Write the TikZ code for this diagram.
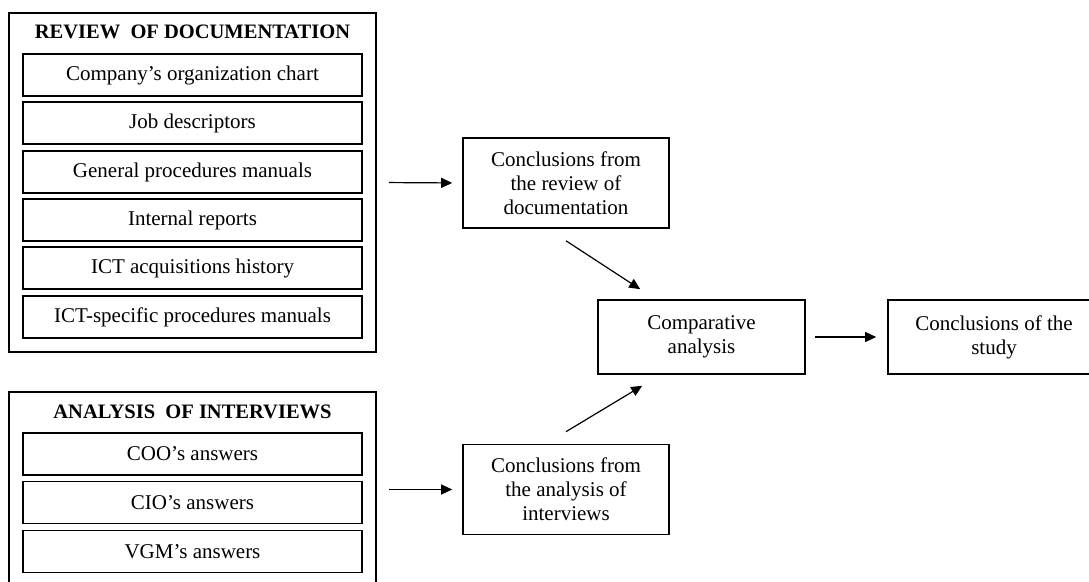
\documentclass[tikz,border=0pt]{standalone}
\usepackage{fontspec}
\setmainfont{Liberation Serif}
\usetikzlibrary{arrows.meta,calc}

\begin{document}
\begin{tikzpicture}[
  x=0.5pt, y=-0.5pt,
  font=\fontsize{10.5}{12}\selectfont,
  group/.style={draw, thick, minimum width=183.5pt, inner sep=0pt},
  item/.style={draw, thick, minimum width=169.5pt, minimum height=21pt, inner sep=0pt},
  heading/.style={font=\fontsize{10.25}{12}\selectfont\bfseries},
  result/.style={draw, thick, minimum width=103pt, minimum height=45pt, align=center, inner sep=0pt},
  flow/.style={-{Triangle[length=5.5pt,width=5pt]}, semithick},
]
  \useasboundingbox (0,0) rectangle (1089,582);

  % Left: review of documentation
  \node[group, minimum height=169.5pt] (docs) at (192.5,182.5) {};
  \node[heading] (docshead) at (192.5,32) {REVIEW\ \ OF DOCUMENTATION};
  \node[item] (orgchart) at (192.5,75) {Company's organization chart};
  \node[item] (jobs) at (192.5,123) {Job descriptors};
  \node[item] (general) at (192.5,172) {General procedures manuals};
  \node[item] (reports) at (192.5,220) {Internal reports};
  \node[item] (acquis) at (192.5,268) {ICT acquisitions history};
  \node[item] (ictproc) at (192.5,317) {ICT-specific procedures manuals};

  % Left: analysis of interviews (runs off the bottom)
  \node[group, minimum height=104pt] (inter) at (192.5,496) {};
  \node[heading] (interhead) at (192.5,412) {ANALYSIS\ \ OF INTERVIEWS};
  \node[item] (coo) at (192.5,454) {COO's answers};
  \node[item] (cio) at (192.5,502.5) {CIO's answers};
  \node[item] (vgm) at (192.5,551.5) {VGM's answers};

  % Middle: partial conclusions
  \node[result] (concdoc) at (566,183) {Conclusions from\\the review of\\documentation};
  \node[result] (concint) at (566,489.5) {Conclusions from\\the analysis of\\interviews};

  % Right: comparison and final result
  \node[result, minimum width=103.5pt, minimum height=37pt] (comp) at (701.5,337) {Comparative\\analysis};
  \node[result, minimum width=106pt, minimum height=37pt] (study) at (994,337) {Conclusions of the\\study};

  % Flows
  \draw[flow, shorten <=6pt, shorten >=5pt] (docs.east) -- (concdoc.west);
  \draw[flow, shorten <=6pt, shorten >=5pt] (inter.east |- concint.west) -- (concint.west);
  \draw[flow] ([yshift=-6pt]concdoc.south) -- ([xshift=21.5pt,yshift=5pt]comp.north west);
  \draw[flow] ([yshift=6pt]concint.north) -- ([xshift=22.5pt,yshift=-5.5pt]comp.south west);
  \draw[flow, shorten <=4.5pt, shorten >=5.5pt] (comp.east) -- (study.west);
\end{tikzpicture}
\end{document}
